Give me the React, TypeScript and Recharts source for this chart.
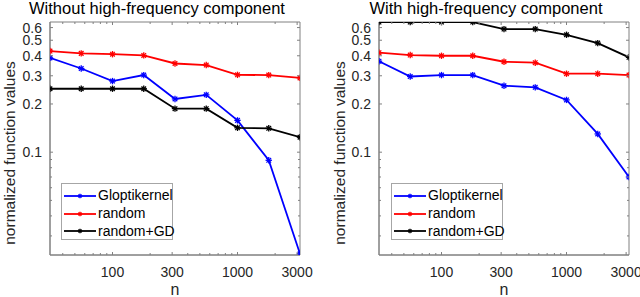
import React from 'react';
import { LineChart, Line, XAxis, YAxis, Legend, ReferenceArea } from 'recharts';

// sample sizes (log spaced)
const nValues = [31.6, 56.2, 100, 177.8, 316.2, 562.3, 1000, 1778, 3162.3];

// left panel: without high-frequency component
const leftGlopti = [0.388, 0.333, 0.278, 0.303, 0.215, 0.228, 0.158, 0.089, 0.0232];
const leftRandom = [0.428, 0.414, 0.409, 0.402, 0.358, 0.35, 0.304, 0.303, 0.291];
const leftRandomGD = [0.249, 0.249, 0.249, 0.249, 0.187, 0.187, 0.142, 0.141, 0.124];

// right panel: with high-frequency component
const rightGlopti = [0.37, 0.297, 0.303, 0.303, 0.26, 0.254, 0.212, 0.13, 0.07];
const rightRandom = [0.418, 0.404, 0.4, 0.4, 0.367, 0.362, 0.309, 0.309, 0.303];
const rightRandomGD = [0.649, 0.649, 0.649, 0.649, 0.587, 0.587, 0.541, 0.48, 0.391];

const xMajor = [100, 300, 1000, 3000];
const xMinor = [40, 50, 60, 70, 80, 90, 200, 400, 500, 600, 700, 800, 900, 2000];
const yMajor = [0.1, 0.2, 0.3, 0.4, 0.5, 0.6];
const yMinor = [0.03, 0.04, 0.05, 0.06, 0.07, 0.08, 0.09];

const X_DOMAIN: [number, number] = [31.62, 3162.3];
const Y_DOMAIN: [number, number] = [0.0228, 0.65];

const series = [
  { key: 'glopti', name: 'Gloptikernel', color: '#0000ff' },
  { key: 'random', name: 'random', color: '#ff0000' },
  { key: 'randomGD', name: 'random+GD', color: '#000000' },
];

const FONT = '"Liberation Sans", Arial, Helvetica, sans-serif';
const AXIS = '#808080';
const TEXT = '#262626';
const PLOT_W = 250;
const PLOT_H = 233;

function buildRows(g: number[], r: number[], gd: number[]) {
  return nValues.map((n, i) => ({ n, glopti: g[i], random: r[i], randomGD: gd[i] }));
}

const leftData = buildRows(leftGlopti, leftRandom, leftRandomGD);
const rightData = buildRows(rightGlopti, rightRandom, rightRandomGD);

function Star({ cx, cy, color, size = 3.2 }: { cx: number; cy: number; color: string; size?: number }) {
  const d = size * 0.72;
  return (
    <g stroke={color} strokeWidth={1.3}>
      <line x1={cx - size} y1={cy} x2={cx + size} y2={cy} />
      <line x1={cx} y1={cy - size} x2={cx} y2={cy + size} />
      <line x1={cx - d} y1={cy - d} x2={cx + d} y2={cy + d} />
      <line x1={cx - d} y1={cy + d} x2={cx + d} y2={cy - d} />
    </g>
  );
}

const XTick = (props: any) => {
  const { x, y, payload } = props;
  const major = xMajor.includes(payload.value);
  const len = major ? 3 : 2;
  return (
    <g>
      <line x1={x} y1={y} x2={x} y2={y - len} stroke={AXIS} />
      <line x1={x} y1={y - PLOT_H} x2={x} y2={y - PLOT_H + len} stroke={AXIS} />
      {major && (
        <text x={x} y={y + 22} textAnchor="middle" fontSize={14} fontFamily={FONT} fill={TEXT}>
          {payload.value}
        </text>
      )}
    </g>
  );
};

const YTick = (props: any) => {
  const { x, y, payload } = props;
  const major = yMajor.includes(payload.value);
  const len = major ? 3 : 2;
  return (
    <g>
      <line x1={x} y1={y} x2={x + len} y2={y} stroke={AXIS} />
      <line x1={x + PLOT_W} y1={y} x2={x + PLOT_W - len} y2={y} stroke={AXIS} />
      {major && (
        <text x={x - 8} y={y + 5} textAnchor="end" fontSize={14} fontFamily={FONT} fill={TEXT}>
          {payload.value}
        </text>
      )}
    </g>
  );
};

const LegendBox = () => (
  <div
    style={{
      border: '1px solid #a6a6a6',
      background: '#fff',
      width: 112,
      height: 57,
      boxSizing: 'border-box',
      paddingTop: 3,
      fontFamily: FONT,
      fontSize: 14,
      color: '#000',
    }}
  >
    {series.map((s) => (
      <div key={s.key} style={{ display: 'flex', alignItems: 'center', height: 17.8, lineHeight: '17.8px' }}>
        <svg width={36} height={10} style={{ flex: 'none' }}>
          <line x1={2} y1={5} x2={34} y2={5} stroke={s.color} strokeWidth={1.8} />
          <Star cx={18} cy={5} color={s.color} size={2.2} />
        </svg>
        <span>{s.name}</span>
      </div>
    ))}
  </div>
);

function Panel({ data, yAxisWidth, marginRight, legendLeft }: { data: any[]; yAxisWidth: number; marginRight: number; legendLeft: number }) {
  return (
    <LineChart width={320} height={297} data={data} margin={{ top: 22, right: marginRight, left: 0, bottom: 0 }}>
      <XAxis
        dataKey="n"
        type="number"
        scale="log"
        domain={X_DOMAIN}
        allowDataOverflow
        ticks={[...xMinor, ...xMajor].sort((a, b) => a - b)}
        tick={XTick}
        tickSize={0}
        tickMargin={0}
        tickLine={false}
        height={42}
        axisLine={{ stroke: AXIS }}
        interval={0}
      />
      <YAxis
        type="number"
        scale="log"
        domain={Y_DOMAIN}
        allowDataOverflow
        ticks={[...yMinor, ...yMajor]}
        tick={YTick}
        tickSize={0}
        tickMargin={0}
        tickLine={false}
        width={yAxisWidth}
        axisLine={{ stroke: AXIS }}
        interval={0}
      />
      <ReferenceArea
        x1={X_DOMAIN[0]}
        x2={X_DOMAIN[1]}
        y1={Y_DOMAIN[0]}
        y2={Y_DOMAIN[1]}
        fill="none"
        fillOpacity={0}
        stroke={AXIS}
        strokeWidth={1}
      />
      {series.map((s) => (
        <Line
          key={s.key}
          dataKey={s.key}
          name={s.name}
          stroke={s.color}
          strokeWidth={1.8}
          isAnimationActive={false}
          dot={(p: any) => <Star key={`${s.key}-${p.index}`} cx={p.cx} cy={p.cy} color={s.color} />}
          activeDot={false}
        />
      ))}
      <Legend
        layout="vertical"
        align="center"
        verticalAlign="middle"
        content={LegendBox}
        wrapperStyle={{ left: legendLeft, top: 183, width: 'auto' }}
      />
    </LineChart>
  );
}

export default function App() {
  return (
    <div style={{ position: 'absolute', left: 0, top: 0, width: 640, height: 297, background: '#fff' }}>
      <div style={{ position: 'absolute', left: 0, top: 0 }}>
        <Panel data={leftData} yAxisWidth={50} marginRight={20} legendLeft={61} />
      </div>
      <div style={{ position: 'absolute', left: 320, top: 0 }}>
        <Panel data={rightData} yAxisWidth={59} marginRight={11} legendLeft={71} />
      </div>
      <svg width={640} height={297} style={{ position: 'absolute', left: 0, top: 0, pointerEvents: 'none' }}>
        <g fontFamily={FONT} fill="#000">
          <text x={157} y={14} textAnchor="middle" fontSize={16.5}>Without high-frequency component</text>
          <text x={486} y={14} textAnchor="middle" fontSize={16.5}>With high-frequency component</text>
          <text x={15} y={153} transform="rotate(-90 15 153)" textAnchor="middle" fontSize={15.5} fill={TEXT}>
            normalized function values
          </text>
          <text x={345} y={153} transform="rotate(-90 345 153)" textAnchor="middle" fontSize={15.5} fill={TEXT}>
            normalized function values
          </text>
          <text x={175} y={295} textAnchor="middle" fontSize={16} fill={TEXT}>n</text>
          <text x={504} y={295} textAnchor="middle" fontSize={16} fill={TEXT}>n</text>
        </g>
      </svg>
    </div>
  );
}
